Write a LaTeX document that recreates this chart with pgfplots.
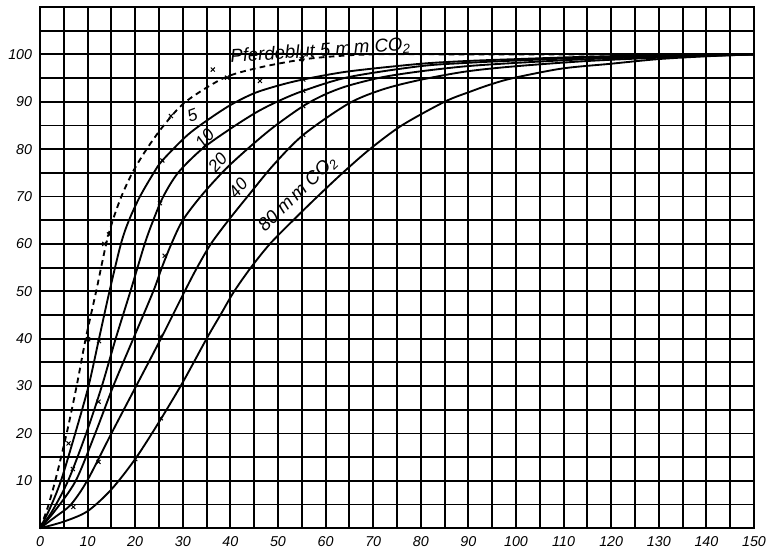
\documentclass[border=0pt]{standalone}
\usepackage{fontspec}
\setmainfont{Liberation Sans}
\usepackage{pgfplots}
\pgfplotsset{compat=1.18}
\begin{document}
\begin{tikzpicture}
\begin{axis}[
 scale only axis, width=500pt, height=365pt,
 xmin=0, xmax=150, ymin=0, ymax=110,
 xtick={0,10,...,150}, ytick={10,20,...,100},
 minor xtick={5,15,...,145}, minor ytick={5,15,...,105},
 grid=both,
 major grid style={black,line width=1.3pt},
 minor grid style={black,line width=1.3pt},
 axis line style={black,line width=1.3pt},
 major tick length=0pt, minor tick length=0pt,
 tick label style={font=\itshape\normalsize},
 /pgf/number format/assume math mode=true,
 xticklabel style={yshift=-2pt},
 yticklabel style={xshift=-2pt},
 clip=false,
 every axis plot/.append style={black, line width=1.3pt},
]
% Pferdeblut 5 mm CO2 (dashed)
\addplot[smooth, tension=0.5, dash pattern=on 4pt off 3pt] coordinates {
(0,0) (1.5,4) (3.2,10) (5.6,20) (7.7,30) (9.6,40) (11.8,50) (13.9,60) (15.3,65) (17.1,70)
(19.4,75) (22.4,80) (26.0,85) (30.6,90) (38.6,95) (46,97.2)
(55,98.9) (62,99.6) (70,100) (90,100) (120,100) (150,100)};
% 5 mm
\addplot[smooth, tension=0.5] coordinates {
(0,0) (2,4) (4.4,10) (7.4,20) (10.2,30) (12.4,40) (14.6,50) (17.0,60) (18.7,65) (21.0,70)
(23.9,75) (25.7,77.6) (30.8,82.8) (35,86) (40,89.3) (45,91.8) (50,93.4) (55.3,94.7)
(64.8,96.4) (79.8,98) (89.6,98.6) (100,99) (115,99.5) (130,99.8) (150,100)};
% 10 mm
\addplot[smooth, tension=0.5] coordinates {
(0,0) (2.5,3.5) (5.9,10) (9.7,20) (13,30) (15.9,40) (19.0,50) (22.0,60) (23.8,65)
(25.9,70) (29.0,75) (34.0,80) (40,84.3) (45.5,87.8) (50,90.1) (55.3,92.3) (64.8,95.2)
(79.8,97.5) (89.6,98.2) (100,98.7) (115,99.3) (130,99.7) (150,100)};
% 20 mm
\addplot[smooth, tension=0.5] coordinates {
(0,0) (3,3.5) (7.5,10) (11.6,20) (15.4,30) (19.6,40) (23.8,50) (25.6,55) (27.6,60)
(30.0,65) (34,70.3) (39,75.8) (44,80.4) (49,84.6) (55.3,89.1) (60,91.6) (64.8,93.4)
(72,95.2) (79.8,96.4) (89.6,97.5) (100,98.2) (115,99) (130,99.5) (150,100)};
% 40 mm
\addplot[smooth, tension=0.5] coordinates {
(0,0) (3.5,2.6) (6.5,5) (9.9,10) (15,20) (20.2,30) (25.4,40) (30.4,50) (33.0,55)
(35.9,60) (39.6,65) (43.6,70) (49,76.6) (55.3,83.0) (64.8,89.6) (72,92.6)
(79.8,94.6) (89.6,96.4) (100,97.5) (115,98.6) (130,99.3) (150,100)};
% 80 mm
\addplot[smooth, tension=0.5] coordinates {
(0,0) (5,1.4) (10,3.6) (15,8.2) (20,14.6) (25,22.4) (30,30.8) (35,40) (37.9,45) (40.8,50)
(44.3,55) (48.3,60) (53.2,65) (58.3,70) (63.6,75) (69.3,80) (76,85) (85,90)
(90.3,92.1) (94.5,93.6) (99.4,95.0) (109.6,97) (119.7,98) (129.9,99) (140,99.6) (150,100)};
% data marks
\addplot[only marks, mark=x, mark size=2pt, line width=0.7pt] coordinates {
(6,17.9) (10.1,39.9) (13.5,60) (14.5,62) (27.5,87) (36.3,96.8) (39.3,95.1) (46.2,94.4) (55,99)
(12.4,39.5) (25.7,77.6) (55.3,94.7)
(12.3,26.7) (25.2,68.6) (55.3,92.3)
(6.9,12.5) (26.2,57.5) (55.3,89.1)
(7.0,4.5) (12.3,14) (25.2,40.4) (55.3,83.0)
(20,14.6) (25.4,23.2)};
% labels
\node[font=\itshape\fontsize{13}{15}\selectfont, rotate=4, anchor=base] at (axis cs:59,99.6) {Pferdeblut 5 m\,m CO\textsubscript{2}};
\node[font=\itshape\fontsize{12}{14}\selectfont, rotate=20] at (axis cs:32.0,87.2) {5};
\node[font=\itshape\fontsize{12}{14}\selectfont, rotate=48] at (axis cs:34.6,82.3) {10};
\node[font=\itshape\fontsize{12}{14}\selectfont, rotate=50] at (axis cs:37.3,77.2) {20};
\node[font=\itshape\fontsize{12}{14}\selectfont, rotate=50] at (axis cs:41.6,71.8) {40};
\node[font=\itshape\fontsize{13}{15}\selectfont, rotate=44] at (axis cs:54.2,70.6) {80 m\,m CO\textsubscript{2}};
\coordinate (sw) at (rel axis cs:0,0);
\coordinate (ne) at (rel axis cs:1,1);
\end{axis}
\path ([shift={(-28pt,-19.6pt)}]sw) rectangle ([shift={(14pt,4.9pt)}]ne);
\end{tikzpicture}
\end{document}
